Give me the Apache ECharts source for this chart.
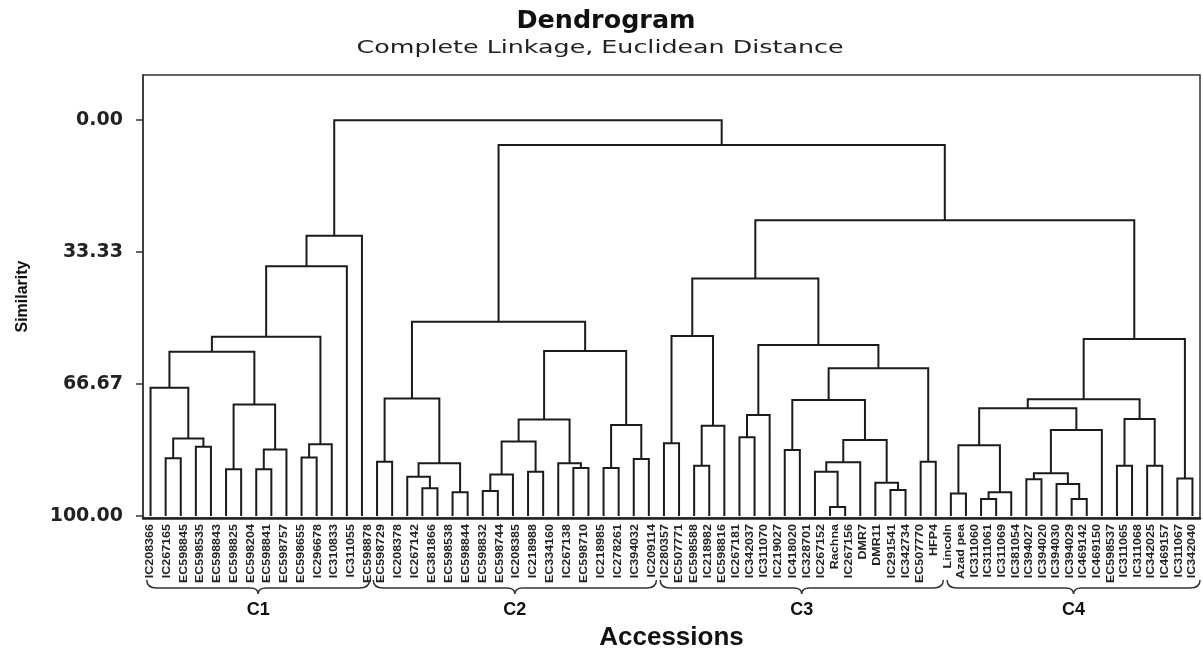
<!DOCTYPE html>
<html><head><meta charset="utf-8">
<script src="https://cdn.jsdelivr.net/npm/echarts@6/dist/echarts.min.js"></script>
<style>html,body{margin:0;padding:0;background:#fff}#chart{width:1203px;height:652px}</style>
</head><body><div id="chart"></div>
<script>
// ---- leaf (accession) labels, by the groups drawn under the braces ----
const labelsC1 = ['IC208366','IC267165','EC598845','EC598535','EC598843','EC598825','EC598204','EC598841','EC598757','EC598655','IC296678','IC310833','IC311055','EC598878'];
const labelsC2 = ['EC598729','IC208378','IC267142','EC381866','EC598538','EC598844','EC598832','EC598744','IC208385','IC218988','EC334160','IC267138','EC598710','IC218985','IC278261','IC394032','IC209114'];
const labelsC3 = ['IC280357','EC507771','EC598588','IC218982','EC598816','IC267181','IC342037','IC311070','IC219027','IC418020','IC328701','IC267152','Rachna','IC267156','DMR7','DMR11','IC291541','IC342734','EC507770','HFP4'];
const labelsC4 = ['Lincoln','Azad pea','IC311060','IC311061','IC311069','IC381054','IC394027','IC394020','IC394030','IC394029','IC469142','IC469150','EC598537','IC311065','IC311068','IC342025','IC469157','IC311067','IC342040'];

// ---- clusters (leaf index ranges in the tree) ----
const clusterNames = ['C1','C2','C3','C4'];
const clusterFirstLeaf = [0, 15, 34, 53];
const clusterLastLeaf = [14, 33, 52, 69];
const leafCount = 70;

// ---- y axis ticks ----
const yTicks = [0, 33.33, 66.67, 100];

// ---- merges: [childA, childB, similarity]; ids < 70 are leaves, id 70+k is merge k ----
const mergesC1 = [
  [1, 2, 85.4], [3, 4, 82.5], [70, 71, 80.4], [0, 72, 67.6],
  [5, 6, 88.2], [7, 8, 88.2], [75, 9, 83.2], [74, 76, 71.8],
  [73, 77, 58.5], [10, 11, 85.2], [79, 12, 81.9], [78, 80, 54.7],
  [81, 13, 36.9], [82, 14, 29.2]
];
const mergesC2 = [
  [15, 16, 86.3], [18, 19, 93.0], [17, 85, 90.1], [20, 21, 94.0],
  [86, 87, 86.7], [84, 88, 70.3], [22, 23, 93.7], [90, 24, 89.5],
  [25, 26, 88.8], [91, 92, 81.2], [28, 29, 87.9], [27, 94, 86.7],
  [93, 95, 75.6], [30, 31, 87.9], [32, 33, 85.6], [97, 98, 77.0],
  [96, 99, 58.3], [89, 100, 50.9]
];
const mergesC3 = [
  [34, 35, 81.6], [36, 37, 87.3], [103, 38, 77.2], [102, 104, 54.5],
  [39, 40, 80.1], [106, 41, 74.5], [42, 43, 83.3], [45, 46, 97.7],
  [44, 109, 88.8], [110, 47, 86.4], [49, 50, 93.4], [48, 112, 91.6],
  [111, 113, 80.8], [108, 114, 70.7], [51, 52, 86.3], [115, 116, 62.7],
  [107, 117, 56.8], [105, 118, 40.0]
];
const mergesC4 = [
  [53, 54, 94.3], [55, 56, 95.7], [121, 57, 94.0], [120, 122, 82.1],
  [58, 59, 90.7], [61, 62, 95.7], [60, 125, 91.9], [124, 126, 89.2],
  [127, 63, 78.3], [123, 128, 72.8], [64, 65, 87.3], [66, 67, 87.3],
  [130, 131, 75.5], [129, 132, 70.5], [68, 69, 90.5], [133, 134, 55.3]
];
const mergesTop = [[119, 135, 25.3], [101, 136, 6.3], [83, 137, 0.0]];

// ---- build links through the tree ----
const merges = [].concat(mergesC1, mergesC2, mergesC3, mergesC4, mergesTop);
const nodeX = [], nodeH = [];
for (let i = 0; i < leafCount; i++) { nodeX[i] = i; nodeH[i] = 100; }
const links = merges.map(function (m, k) {
  const a = m[0], b = m[1], h = m[2];
  const id = leafCount + k;
  nodeX[id] = (nodeX[a] + nodeX[b]) / 2;
  nodeH[id] = h;
  return [nodeX[a], nodeH[a], nodeX[b], nodeH[b], h];
});

// label positions: each label group spread along its cluster
const labelGroups = [labelsC1, labelsC2, labelsC3, labelsC4];
const groupLoShift = [0, 0.3, 0.1, -0.2];
const groupHiShift = [0.4, 0.2, -0.1, 0];
const allLabels = [], labelPos = [];
labelGroups.forEach(function (g, gi) {
  const lo = clusterFirstLeaf[gi] + groupLoShift[gi];
  const hi = clusterLastLeaf[gi] + groupHiShift[gi];
  g.forEach(function (t, j) {
    allLabels.push(t);
    labelPos.push([lo + (hi - lo) * j / (g.length - 1), 100]);
  });
});

const chart = echarts.init(document.getElementById('chart'));
const option = {
  animation: false,
  backgroundColor: '#ffffff',
  graphic: [
    { type: 'text', x: 606, y: 22, scaleX: 1.06, silent: true,
      style: { text: 'Dendrogram', font: 'bold 24px "DejaVu Sans"', fill: '#111', align: 'center', verticalAlign: 'middle' } },
    { type: 'text', x: 600, y: 49, scaleX: 1.49, silent: true,
      style: { text: 'Complete Linkage, Euclidean Distance', font: '17px "DejaVu Sans"', fill: '#222', align: 'center', verticalAlign: 'middle' } }
  ],
  grid: { left: 143, right: 3, top: 75, bottom: 134, show: true, borderColor: '#333', borderWidth: 1.5,
    containLabel: false, outerBoundsMode: 'none' },
  xAxis: {
    type: 'value', min: -0.5, max: leafCount - 0.5,
    axisLabel: { show: false }, axisTick: { show: false }, splitLine: { show: false },
    axisLine: { show: true, onZero: false, lineStyle: { color: '#222', width: 2.5 } },
    name: 'Accessions', nameLocation: 'middle', nameGap: 107,
    nameTextStyle: { fontFamily: 'Liberation Sans', fontWeight: 'bold', fontSize: 26, color: '#111' }
  },
  yAxis: {
    type: 'value', inverse: true, min: -11.4, max: 100.5,
    axisLine: { show: true, onZero: false, lineStyle: { color: '#333', width: 1.5 } },
    axisTick: { show: true, length: 7, customValues: yTicks, lineStyle: { color: '#333', width: 1.5 } },
    axisLabel: { customValues: yTicks, formatter: function (v) { return v.toFixed(2); }, margin: 20,
      fontFamily: 'DejaVu Sans', fontWeight: 'bold', fontSize: 19, color: '#222' },
    splitLine: { show: false },
    name: 'Similarity', nameLocation: 'middle', nameRotate: 90, nameGap: 112,
    nameTextStyle: { fontFamily: 'Liberation Sans', fontWeight: 'bold', fontSize: 16, color: '#111' }
  },
  series: [
    {
      type: 'custom', name: 'tree', data: links, clip: false, silent: true,
      encode: { x: [0, 2], y: [1, 3, 4] },
      renderItem: function (params, api) {
        const p1 = api.coord([api.value(0), api.value(1)]);
        const p2 = api.coord([api.value(0), api.value(4)]);
        const p3 = api.coord([api.value(2), api.value(4)]);
        const p4 = api.coord([api.value(2), api.value(3)]);
        return { type: 'polyline', shape: { points: [p1, p2, p3, p4] },
          style: { fill: 'none', stroke: '#1b1b1b', lineWidth: 2 } };
      }
    },
    {
      type: 'custom', name: 'accessions', data: labelPos, clip: false, silent: true,
      encode: { x: 0, y: 1 },
      renderItem: function (params, api) {
        const p = api.coord([api.value(0), 100]);
        return { type: 'text', x: p[0], y: p[1] + 8, rotation: Math.PI / 2, scaleX: 1.25,
          style: { text: allLabels[params.dataIndex], fill: '#222', font: 'bold 10px "Liberation Sans"',
            align: 'right', verticalAlign: 'middle' } };
      }
    },
    {
      type: 'custom', name: 'clusters', clip: false, silent: true,
      data: clusterNames.map(function (n, i) { return [clusterFirstLeaf[i], clusterLastLeaf[i]]; }),
      encode: { x: [0, 1] },
      renderItem: function (params, api) {
        const a = api.coord([api.value(0) - 0.25, 100]);
        const b = api.coord([api.value(1) + 0.5, 100]);
        const x0 = a[0], x1 = b[0], xm = (x0 + x1) / 2, yb = a[1] + 2;
        const yTop = yb + 62, yLine = yb + 70, yTip = yb + 76;
        const d = 'M' + x0 + ' ' + yTop + ' Q' + x0 + ' ' + yLine + ' ' + (x0 + 10) + ' ' + yLine +
          ' L' + (xm - 8) + ' ' + yLine + ' Q' + xm + ' ' + yLine + ' ' + xm + ' ' + yTip +
          ' Q' + xm + ' ' + yLine + ' ' + (xm + 8) + ' ' + yLine +
          ' L' + (x1 - 10) + ' ' + yLine + ' Q' + x1 + ' ' + yLine + ' ' + x1 + ' ' + yTop;
        return { type: 'group', children: [
          { type: 'path', shape: { pathData: d }, style: { fill: 'none', stroke: '#333', lineWidth: 1.5 } },
          { type: 'text', x: xm, y: yb + 92, style: { text: clusterNames[params.dataIndex], fill: '#111',
            font: 'bold 18px "Liberation Sans"', align: 'center', verticalAlign: 'middle' } }
        ] };
      }
    }
  ]
};
chart.setOption(option);
</script>
</body></html>
